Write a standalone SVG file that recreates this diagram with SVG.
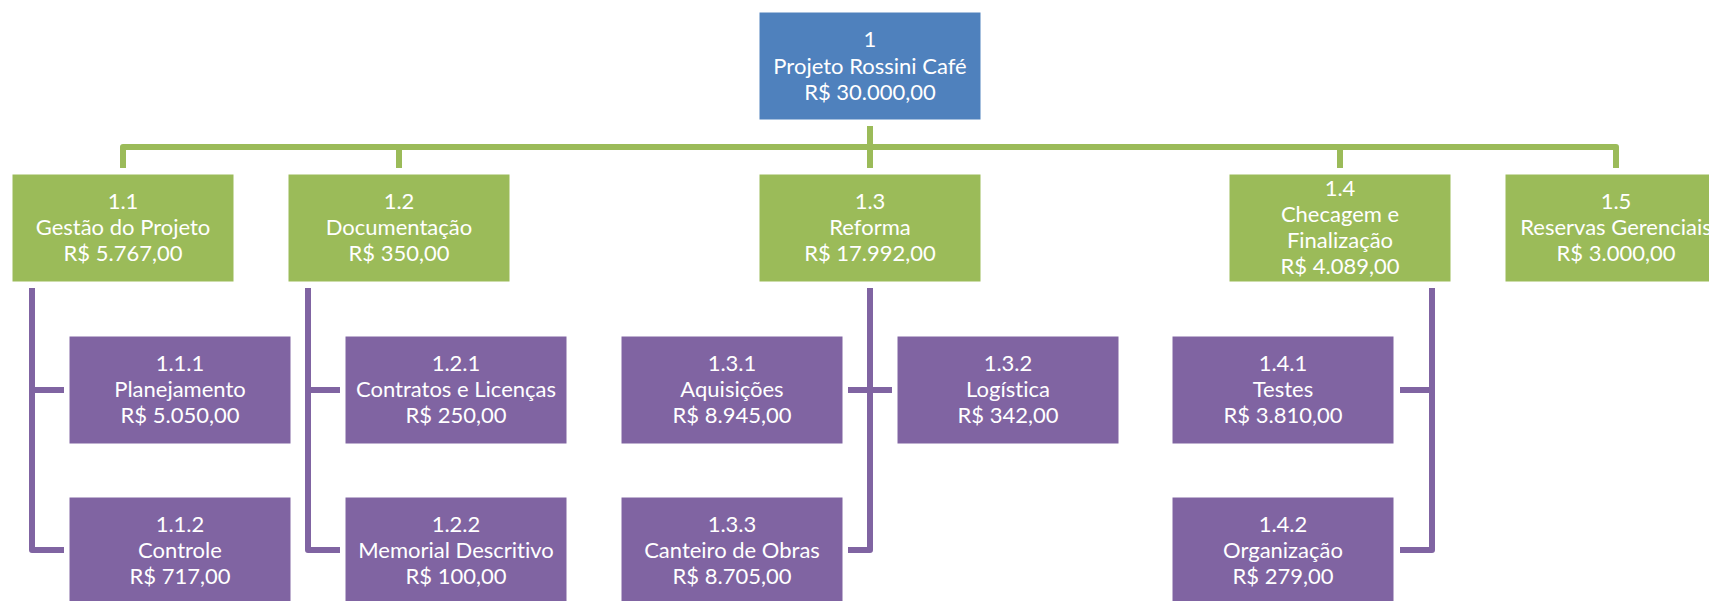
<svg xmlns="http://www.w3.org/2000/svg" width="1709" height="601" viewBox="0 0 1709 601">
<style>
.b{fill:#4F81BD;stroke:#ffffff;stroke-width:1}
.g{fill:#9BBB59;stroke:#ffffff;stroke-width:1}
.p{fill:#8064A2;stroke:#ffffff;stroke-width:1}
text{font-family:Lato,"Liberation Sans",sans-serif;font-size:22px;fill:#ffffff;text-anchor:middle;font-variant-ligatures:none}
.cg{fill:none;stroke:#9BBB59;stroke-width:6;stroke-linejoin:round}
.cp{fill:none;stroke:#8064A2;stroke-width:6;stroke-linejoin:round}
</style>
<rect width="1709" height="601" fill="#ffffff"/>
<g id="connectors">
<path class="cg" d="M123,168 V147 H1616 V168"/>
<path class="cg" d="M870,126 V168"/>
<path class="cg" d="M399,147 V168"/>
<path class="cg" d="M1340,147 V168"/>
<path class="cp" d="M32,288 V550 H64"/>
<path class="cp" d="M32,390 H64"/>
<path class="cp" d="M308,288 V550 H340"/>
<path class="cp" d="M308,390 H340"/>
<path class="cp" d="M870,288 V550 H848"/>
<path class="cp" d="M848,390 H892"/>
<path class="cp" d="M1432,288 V550 H1400"/>
<path class="cp" d="M1432,390 H1400"/>
</g>
<g id="n1"><rect class="b" x="759" y="12" width="222" height="108"/>
<text x="870" y="47">1</text><text x="870" y="73.5">Projeto Rossini Café</text><text x="870" y="100">R$ 30.000,00</text></g>
<g id="n1_1"><rect class="g" x="12" y="174" width="222" height="108"/>
<text x="123" y="209">1.1</text><text x="123" y="235">Gestão do Projeto</text><text x="123" y="261">R$ 5.767,00</text></g>
<g id="n1_2"><rect class="g" x="288" y="174" width="222" height="108"/>
<text x="399" y="209">1.2</text><text x="399" y="235">Documentação</text><text x="399" y="261">R$ 350,00</text></g>
<g id="n1_3"><rect class="g" x="759" y="174" width="222" height="108"/>
<text x="870" y="209">1.3</text><text x="870" y="235">Reforma</text><text x="870" y="261">R$ 17.992,00</text></g>
<g id="n1_4"><rect class="g" x="1229" y="174" width="222" height="108"/>
<text x="1340" y="196">1.4</text><text x="1340" y="222">Checagem e</text><text x="1340" y="248">Finalização</text><text x="1340" y="274">R$ 4.089,00</text></g>
<g id="n1_5"><rect class="g" x="1505" y="174" width="222" height="108"/>
<text x="1616" y="209">1.5</text><text x="1616" y="235">Reservas Gerenciais</text><text x="1616" y="261">R$ 3.000,00</text></g>
<g id="n1_1_1"><rect class="p" x="69" y="336" width="222" height="108"/>
<text x="180" y="371">1.1.1</text><text x="180" y="397">Planejamento</text><text x="180" y="423">R$ 5.050,00</text></g>
<g id="n1_1_2"><rect class="p" x="69" y="497" width="222" height="108"/>
<text x="180" y="532">1.1.2</text><text x="180" y="558">Controle</text><text x="180" y="584">R$ 717,00</text></g>
<g id="n1_2_1"><rect class="p" x="345" y="336" width="222" height="108"/>
<text x="456" y="371">1.2.1</text><text x="456" y="397">Contratos e Licenças</text><text x="456" y="423">R$ 250,00</text></g>
<g id="n1_2_2"><rect class="p" x="345" y="497" width="222" height="108"/>
<text x="456" y="532">1.2.2</text><text x="456" y="558">Memorial Descritivo</text><text x="456" y="584">R$ 100,00</text></g>
<g id="n1_3_1"><rect class="p" x="621" y="336" width="222" height="108"/>
<text x="732" y="371">1.3.1</text><text x="732" y="397">Aquisições</text><text x="732" y="423">R$ 8.945,00</text></g>
<g id="n1_3_2"><rect class="p" x="897" y="336" width="222" height="108"/>
<text x="1008" y="371">1.3.2</text><text x="1008" y="397">Logística</text><text x="1008" y="423">R$ 342,00</text></g>
<g id="n1_3_3"><rect class="p" x="621" y="497" width="222" height="108"/>
<text x="732" y="532">1.3.3</text><text x="732" y="558">Canteiro de Obras</text><text x="732" y="584">R$ 8.705,00</text></g>
<g id="n1_4_1"><rect class="p" x="1172" y="336" width="222" height="108"/>
<text x="1283" y="371">1.4.1</text><text x="1283" y="397">Testes</text><text x="1283" y="423">R$ 3.810,00</text></g>
<g id="n1_4_2"><rect class="p" x="1172" y="497" width="222" height="108"/>
<text x="1283" y="532">1.4.2</text><text x="1283" y="558">Organização</text><text x="1283" y="584">R$ 279,00</text></g>
</svg>
